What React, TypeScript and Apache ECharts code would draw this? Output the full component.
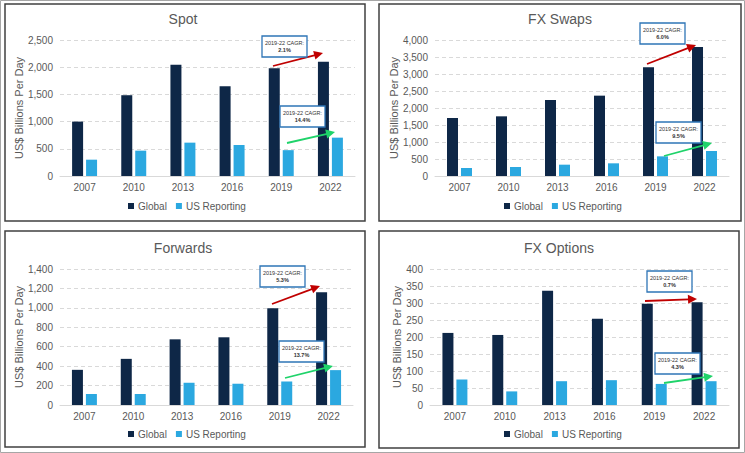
import React, { useEffect, useRef } from "react";
import * as echarts from "echarts";

const years = ["2007", "2010", "2013", "2016", "2019", "2022"];
const seriesNames = ["Global", "US Reporting"];
const panelTitles = ["Spot", "FX Swaps", "Forwards", "FX Options"];

const spotGlobal = [1000, 1485, 2047, 1650, 1980, 2102];
const spotUS = [300, 466, 613, 570, 475, 705];
const swapsGlobal = [1706, 1755, 2235, 2363, 3196, 3794];
const swapsUS = [235, 265, 333, 373, 578, 735];
const fwdGlobal = [362, 475, 676, 697, 997, 1161];
const fwdUS = [113, 113, 229, 219, 242, 359];
const optGlobal = [212, 206, 336, 254, 298, 302];
const optUS = [75, 40, 70, 73, 62, 70];

const yMax = [2500, 4000, 1400, 400];
const yInterval = [500, 500, 200, 50];

const cagrGlobal = ["2.1%", "6.0%", "5.3%", "0.7%"];
const cagrUS = ["14.4%", "9.5%", "13.7%", "4.3%"];

const NAVY = "#0E2747";
const LIGHT = "#2BA8E0";
const TEXT = "#595959";
const RED = "#C00000";
const GREEN = "#1FD36A";
const BOXBLUE = "#2E75B6";

const grids = [
  { left: 60, top: 40, width: 295, height: 136 },
  { left: 435, top: 40, width: 294, height: 136 },
  { left: 60, top: 269, width: 293, height: 136 },
  { left: 430, top: 269, width: 299, height: 136 },
];
const titlePos = [
  [183, 12],
  [560, 12],
  [183, 241],
  [559, 241],
];
const legendPos = [
  [128, 201],
  [504, 201],
  [128, 429],
  [504, 429],
];
const panels = [
  [5, 4, 360, 217],
  [379, 4, 362, 217],
  [5, 231, 360, 216],
  [379, 231, 360, 217],
];
// annotation geometry: [boxX, boxY, arrow x1, y1, x2, y2]
const redNotes = [
  [262, 36, 273, 66, 323, 53],
  [640, 23, 647, 64, 696, 45],
  [260, 266, 272, 304, 320, 286],
  [647, 271, 645, 301, 697, 299],
];
const greenNotes = [
  [280, 106, 287, 143, 335, 132],
  [656, 122, 664, 156, 712, 143],
  [279, 341, 285, 378, 333, 366],
  [655, 353, 664, 383, 713, 376],
];

function arrow(x1: number, y1: number, x2: number, y2: number, color: string) {
  const dx = x2 - x1;
  const dy = y2 - y1;
  const L = Math.hypot(dx, dy);
  const ux = dx / L;
  const uy = dy / L;
  const head = 9;
  const hw = 4.5;
  const bx = x2 - ux * head;
  const by = y2 - uy * head;
  return [
    {
      type: "line",
      shape: { x1, y1, x2: bx + ux, y2: by + uy },
      style: { stroke: color, lineWidth: 1.8 },
      z: 100,
    },
    {
      type: "polygon",
      shape: {
        points: [
          [x2, y2],
          [bx - uy * hw, by + ux * hw],
          [bx + uy * hw, by - ux * hw],
        ],
      },
      style: { fill: color },
      z: 100,
    },
  ];
}

function box(x: number, y: number, pct: string) {
  return [
    {
      type: "rect",
      shape: { x, y, width: 45, height: 21 },
      style: { fill: "#fff", stroke: BOXBLUE, lineWidth: 1.3 },
      z: 100,
    },
    {
      type: "text",
      x: x + 22.5,
      y: y + 10.5,
      style: {
        text: "{a|2019-22 CAGR:}\n{b|" + pct + "}",
        align: "center",
        verticalAlign: "middle",
        rich: {
          a: { fontSize: 5.5, fill: "#333", fontFamily: "Liberation Sans", lineHeight: 7 },
          b: { fontSize: 5.5, fill: "#333", fontWeight: "bold", fontFamily: "Liberation Sans", lineHeight: 7 },
        },
      },
      z: 101,
    },
  ];
}

export default function App() {
  const ref = useRef<HTMLDivElement>(null);
  useEffect(() => {
    if (!ref.current) return;
    const chart = echarts.init(ref.current, undefined, { renderer: "svg" });
    const data = [
      [spotGlobal, spotUS],
      [swapsGlobal, swapsUS],
      [fwdGlobal, fwdUS],
      [optGlobal, optUS],
    ];
    const font = "Liberation Sans";
    const series: any[] = [];
    data.forEach((pair, i) => {
      pair.forEach((vals, j) => {
        series.push({
          type: "bar",
          name: seriesNames[j],
          xAxisIndex: i,
          yAxisIndex: i,
          data: vals,
          barWidth: 11,
          barGap: "27%",
          itemStyle: { color: j === 0 ? NAVY : LIGHT },
        });
      });
    });
    const graphic: any[] = [
      {
        type: "rect",
        shape: { x: 0.5, y: 0.5, width: 744, height: 452 },
        style: { fill: "none", stroke: "#A6A6A6", lineWidth: 1 },
      },
    ];
    panels.forEach((p) => {
      graphic.push({
        type: "rect",
        shape: { x: p[0], y: p[1], width: p[2], height: p[3] },
        style: { fill: "none", stroke: "#404040", lineWidth: 1.5 },
        z: 50,
      });
    });
    for (let i = 0; i < 4; i++) {
      const r = redNotes[i];
      const g = greenNotes[i];
      graphic.push(...arrow(r[2], r[3], r[4], r[5], RED));
      graphic.push(...box(r[0], r[1], cagrGlobal[i]));
      graphic.push(...arrow(g[2], g[3], g[4], g[5], GREEN));
      graphic.push(...box(g[0], g[1], cagrUS[i]));
    }
    chart.setOption({
      animation: false,
      backgroundColor: "#fff",
      textStyle: { fontFamily: font },
      title: panelTitles.map((t, i) => ({
        text: t,
        left: titlePos[i][0],
        top: titlePos[i][1],
        textAlign: "center",
        padding: 0,
        textStyle: { fontSize: 14, fontWeight: "normal", color: TEXT, fontFamily: font },
      })),
      legend: legendPos.map((p) => ({
        data: seriesNames,
        left: p[0],
        top: p[1],
        itemWidth: 6,
        itemHeight: 6,
        itemGap: 9,
        icon: "rect",
        padding: 0,
        selectedMode: false,
        textStyle: { fontSize: 10, color: TEXT, fontFamily: font, padding: [0, 0, 0, -1] },
      })),
      grid: grids,
      xAxis: grids.map((_, i) => ({
        type: "category",
        gridIndex: i,
        data: years,
        axisTick: { show: false },
        axisLine: { lineStyle: { color: "#D9D9D9" } },
        axisLabel: { color: TEXT, fontSize: 10, margin: 6, fontFamily: font },
      })),
      yAxis: grids.map((_, i) => ({
        type: "value",
        gridIndex: i,
        min: 0,
        max: yMax[i],
        interval: yInterval[i],
        name: "US$ Billions Per Day",
        nameLocation: "middle",
        nameGap: 27,
        nameTextStyle: { color: TEXT, fontSize: 11, fontFamily: font },
        axisLine: { show: false },
        axisTick: { show: false },
        splitLine: { lineStyle: { color: "#D9D9D9", type: [4, 3] } },
        axisLabel: {
          color: TEXT,
          fontSize: 10,
          margin: 7,
          fontFamily: font,
          formatter: (v: number) => v.toLocaleString("en-US"),
        },
      })),
      series,
      graphic,
    });
    return () => chart.dispose();
  }, []);
  return (
    <div
      ref={ref}
      style={{ position: "fixed", left: 0, top: 0, width: 745, height: 453 }}
    />
  );
}
